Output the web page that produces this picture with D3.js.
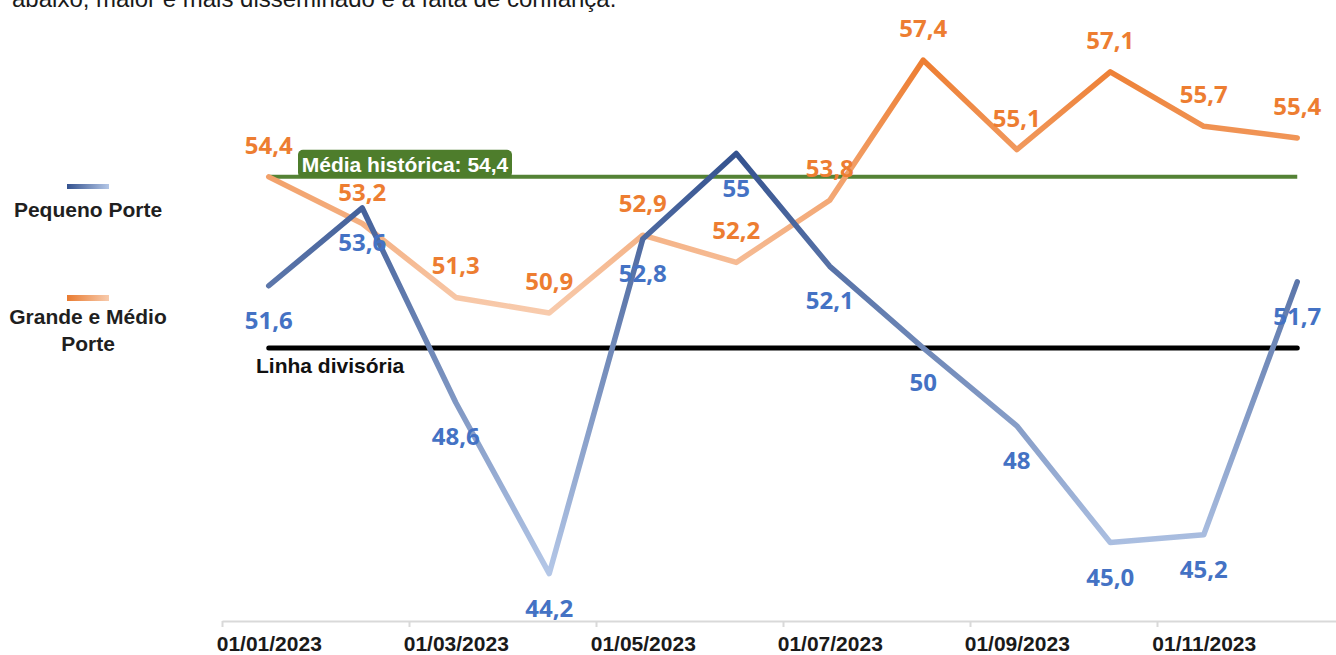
<!DOCTYPE html>
<html>
<head>
<meta charset="utf-8">
<script src="https://cdn.jsdelivr.net/npm/d3@7"></script>
<style>
  html, body { margin: 0; padding: 0; background: #fff; }
  svg { display: block; }
</style>
</head>
<body>
<svg id="chart" width="1336" height="655"></svg>
<script>
// ---- data ----
const months = ["2023-01","2023-02","2023-03","2023-04","2023-05","2023-06","2023-07","2023-08","2023-09","2023-10","2023-11","2023-12"];
const pequenoPorte = [51.6, 53.6, 48.6, 44.2, 52.8, 55.0, 52.1, 50.0, 48.0, 45.0, 45.2, 51.7];
const pequenoLabels = ["51,6","53,6","48,6","44,2","52,8","55","52,1","50","48","45,0","45,2","51,7"];
const grandeMedio = [54.4, 53.2, 51.3, 50.9, 52.9, 52.2, 53.8, 57.4, 55.1, 57.1, 55.7, 55.4];
const grandeLabels = ["54,4","53,2","51,3","50,9","52,9","52,2","53,8","57,4","55,1","57,1","55,7","55,4"];
const tickIndex = [0, 2, 4, 6, 8, 10];
const tickLabels = ["01/01/2023","01/03/2023","01/05/2023","01/07/2023","01/09/2023","01/11/2023"];
const mediaHistorica = 54.4;
const linhaDivisoria = 50;
const seriesNames = ["Pequeno Porte", "Grande e Médio Porte"];
const headerText = "abaixo, maior e mais disseminado é a falta de confiança.";

// ---- layout ----
const svg = d3.select("#chart");
const x = d3.scaleLinear().domain([0, 12]).range([222, 1344]);
const y = d3.scaleLinear().domain([44, 58]).range([581.4, 36.8]);
const cx = i => x(i + 0.5);

const BLUE = "#4472C4", ORANGE = "#ED7D31";
const labelFont = "'Open Sans', sans-serif";
const textFont = "'Liberation Sans', Arial, sans-serif";

// header text (partially cut at top, as in the source image)
svg.append("text").attr("x", 12).attr("y", 7)
  .attr("font-family", textFont).attr("font-size", 24).attr("fill", "#1a1a1a")
  .text(headerText);

// gradients
const defs = svg.append("defs");
function vGrad(id, vals, top, bottom) {
  const g = defs.append("linearGradient").attr("id", id)
    .attr("gradientUnits", "userSpaceOnUse")
    .attr("x1", 0).attr("x2", 0)
    .attr("y1", y(d3.max(vals))).attr("y2", y(d3.min(vals)));
  g.append("stop").attr("offset", "0%").attr("stop-color", top);
  g.append("stop").attr("offset", "100%").attr("stop-color", bottom);
}
vGrad("gBlue", pequenoPorte, "#34528F", "#B4C7E7");
vGrad("gOrange", grandeMedio, "#ED7D31", "#F8CBAD");
function hGrad(id, left, right) {
  const g = defs.append("linearGradient").attr("id", id)
    .attr("x1", "0%").attr("x2", "100%").attr("y1", "0%").attr("y2", "0%");
  g.append("stop").attr("offset", "0%").attr("stop-color", left);
  g.append("stop").attr("offset", "100%").attr("stop-color", right);
}
hGrad("lgBlue", "#34528F", "#B4C7E7");
hGrad("lgOrange", "#E97B30", "#F8CBAD");

// x axis
const axis = d3.axisBottom(x).tickValues(tickIndex)
  .tickFormat((d, i) => tickLabels[i]).tickSizeInner(6).tickSizeOuter(0).tickPadding(9);
const gx = svg.append("g").attr("transform", `translate(0,${621})`).call(axis);
gx.select(".domain").attr("stroke", "#D9D9D9").attr("stroke-width", 2);
gx.selectAll(".tick line").attr("stroke", "#D9D9D9").attr("stroke-width", 2);
gx.selectAll(".tick text")
  .attr("x", x(0.5) - x(0))
  .attr("font-family", textFont).attr("font-size", 21).attr("font-weight", "bold")
  .attr("fill", "#1a1a1a");

// reference lines
const xStart = cx(0), xEnd = cx(months.length - 1);
svg.append("line").attr("x1", xStart).attr("x2", xEnd)
  .attr("y1", y(mediaHistorica)).attr("y2", y(mediaHistorica))
  .attr("stroke", "#548235").attr("stroke-width", 4);
svg.append("line").attr("x1", xStart).attr("x2", xEnd)
  .attr("y1", y(linhaDivisoria)).attr("y2", y(linhaDivisoria))
  .attr("stroke", "#000").attr("stroke-width", 5).attr("stroke-linecap", "round");

svg.append("text").attr("x", 256).attr("y", y(linhaDivisoria) + 25)
  .attr("font-family", textFont).attr("font-size", 21).attr("font-weight", "bold")
  .attr("fill", "#111").text("Linha divisória");

// series lines
const line = d3.line().x((d, i) => cx(i)).y(d => y(d));
svg.append("path").datum(grandeMedio).attr("d", line)
  .attr("fill", "none").attr("stroke", "url(#gOrange)").attr("stroke-width", 5.5)
  .attr("stroke-linejoin", "round").attr("stroke-linecap", "round");
svg.append("path").datum(pequenoPorte).attr("d", line)
  .attr("fill", "none").attr("stroke", "url(#gBlue)").attr("stroke-width", 5.5)
  .attr("stroke-linejoin", "round").attr("stroke-linecap", "round");

// média histórica label box
const boxG = svg.append("g");
boxG.append("rect").attr("x", 298).attr("y", y(mediaHistorica) - 27)
  .attr("width", 214).attr("height", 28).attr("rx", 5)
  .attr("fill", "#4E7D2C");
boxG.append("text").attr("x", 405).attr("y", y(mediaHistorica) - 5)
  .attr("text-anchor", "middle").attr("font-family", textFont)
  .attr("font-size", 21).attr("font-weight", "bold").attr("fill", "#fff")
  .text("Média histórica: " + String(mediaHistorica).replace(".", ","));

// data labels
svg.append("g").selectAll("text").data(grandeMedio).join("text")
  .attr("x", (d, i) => cx(i)).attr("y", d => y(d) - 23)
  .attr("text-anchor", "middle").attr("font-family", labelFont)
  .attr("font-size", 24).attr("font-weight", 700).attr("fill", ORANGE)
  .text((d, i) => grandeLabels[i]);
svg.append("g").selectAll("text").data(pequenoPorte).join("text")
  .attr("x", (d, i) => cx(i)).attr("y", d => y(d) + 43)
  .attr("text-anchor", "middle").attr("font-family", labelFont)
  .attr("font-size", 24).attr("font-weight", 700).attr("fill", BLUE)
  .text((d, i) => pequenoLabels[i]);

// legend
const lg = svg.append("g");
lg.append("rect").attr("x", 67).attr("y", 184).attr("width", 42).attr("height", 5).attr("fill", "url(#lgBlue)");
lg.append("text").attr("x", 88).attr("y", 217).attr("text-anchor", "middle")
  .attr("font-family", textFont).attr("font-size", 21).attr("font-weight", "bold").attr("fill", "#1f1f1f")
  .text(seriesNames[0]);
lg.append("rect").attr("x", 67).attr("y", 295).attr("width", 42).attr("height", 6).attr("fill", "url(#lgOrange)");
const t2 = lg.append("text").attr("text-anchor", "middle")
  .attr("font-family", textFont).attr("font-size", 21).attr("font-weight", "bold").attr("fill", "#1f1f1f");
t2.append("tspan").attr("x", 88).attr("y", 324).text("Grande e Médio");
t2.append("tspan").attr("x", 88).attr("y", 351).text("Porte");
</script>
</body>
</html>
